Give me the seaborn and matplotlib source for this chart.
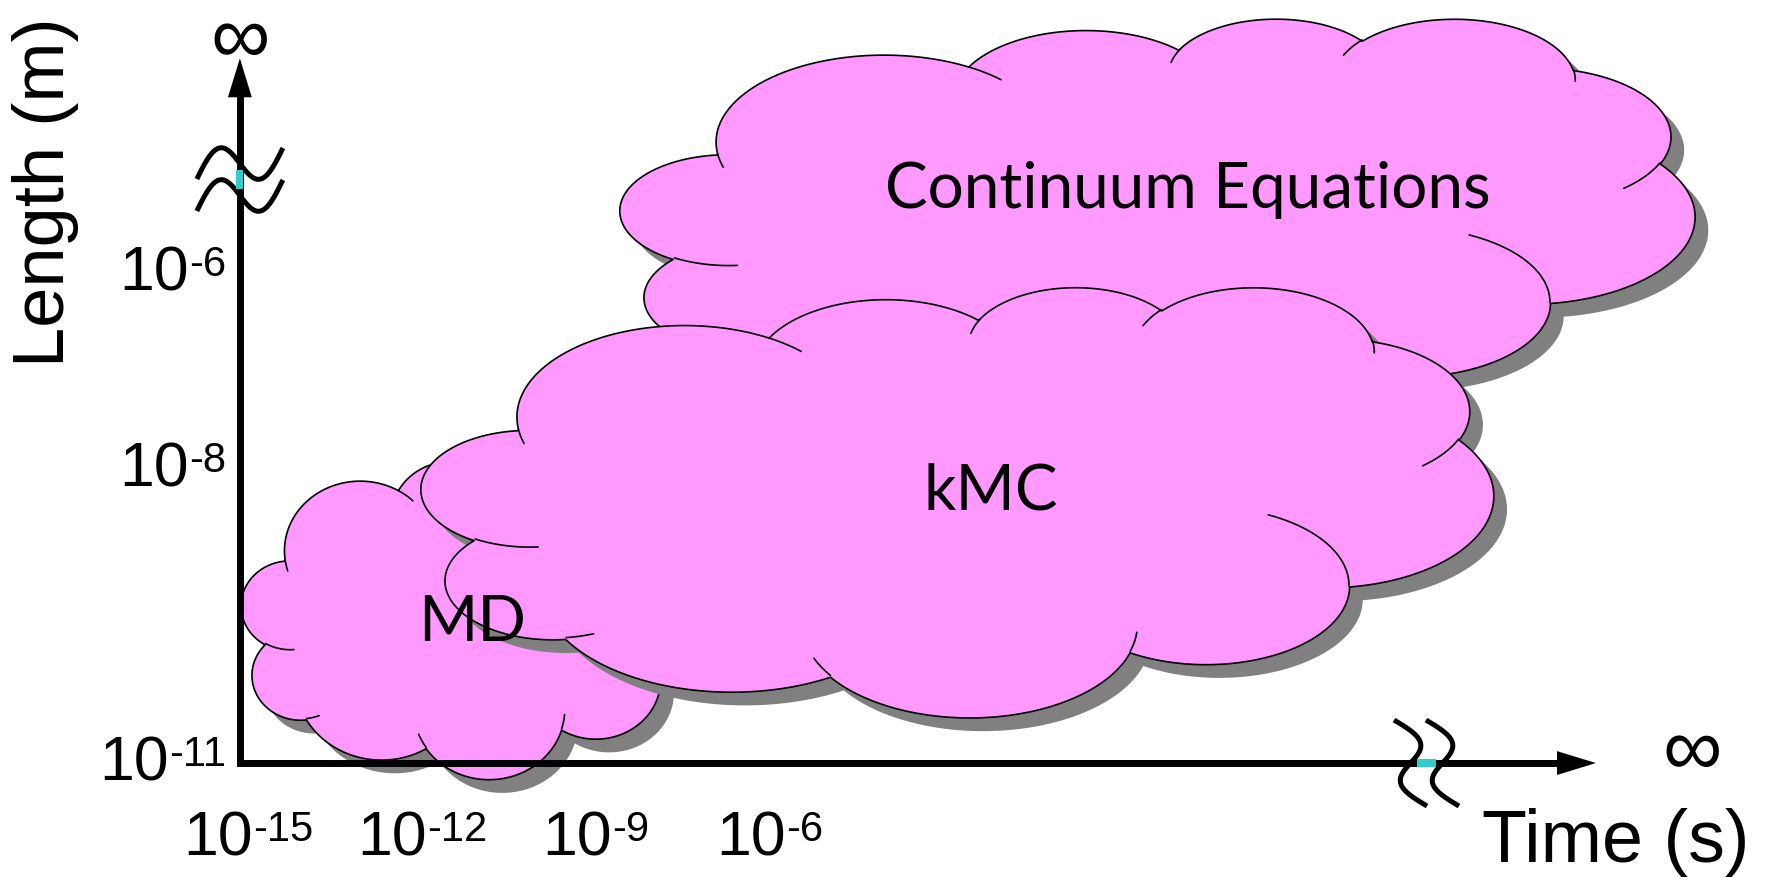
import numpy as np
import matplotlib
matplotlib.use("Agg")
import matplotlib.pyplot as plt
from matplotlib import transforms
from matplotlib.patches import Polygon, Rectangle
from matplotlib.offsetbox import TextArea, HPacker, AnnotationBbox
import seaborn as sns

# simulation regimes, back to front; extents in log10(s) and log10(m)
REGIMES = ["Continuum Equations", "MD", "kMC"]
TIME_LO = [-8.59, -15.12, -12.02]
TIME_HI = [9.95, -6.76, 6.48]
LENGTH_LO = [-7.58, -11.17, -10.54]
LENGTH_HI = [-3.41, -7.83, -6.15]

TIME_TICKS = [-15, -12, -9, -6]
LENGTH_TICKS = [-11, -8, -6]

sns.set_theme(style="white")
plt.rcParams["font.family"] = ["Liberation Sans", "DejaVu Sans"]
plt.rcParams["text.color"] = "black"
AXIS_FONT = ["Liberation Sans", "DejaVu Sans"]
LABEL_FONT = ["Lato", "DejaVu Sans"]

PINK = "#FF99FF"
SHADOW = "#808080"
CYAN = "#33CCCC"

# clip-art cloud outline (43200 grid, angles in 1/60000 degree)
CLOUD_START = (3900, 14370)
CLOUD_ARCS = [
    (6753, 9190, -11429249, 7426832),
    (5333, 7267, -8646143, 5396714),
    (4365, 5945, -8748475, 5983381),
    (4857, 6595, -7859164, 7034504),
    (5333, 7273, -4722533, 6541615),
    (6775, 9220, -2776035, 7816140),
    (5785, 7867, 37501, 6842000),
    (6752, 9215, 1347096, 6910353),
    (7720, 10543, 3974558, 4542661),
    (4360, 5918, -16496525, 8804134),
    (4345, 5945, -14809710, 9151131),
]
CLOUD_INNER = [
    ((4693, 26177), 4345, 5945, 5204520, 1585770),
    ((6928, 34899), 4360, 5918, 4416628, 686848),
    ((16478, 39090), 6752, 9215, 8257449, 844866),
    ((28827, 34751), 6752, 9215, 387196, 959901),
    ((34129, 22954), 5785, 7867, -4217541, 4255042),
    ((41798, 15354), 5333, 7273, 1819082, 1665090),
    ((38324, 5426), 4857, 6595, -824660, 891534),
    ((29078, 3952), 4857, 6595, -8950887, 1091722),
    ((22141, 4720), 4365, 5945, -9809656, 1061181),
    ((14000, 5192), 6753, 9190, -4002417, 739161),
    ((4127, 15789), 6753, 9190, 9459261, 711490),
]

# layout (data units = decades)
X_LIM = (-19.276, 11.328)
Y_LIM = (-12.173, -3.204)
AX_X0, AX_Y0 = -15.14, -11.0
X_TIP, Y_TIP = 8.24, -3.81
X_BREAK, Y_BREAK = 5.32, -5.046
LABEL_OFFSETS = [(22, 25), (-8, -4), (24, 9)]  # points, per regime


def arc_pts(p, wr, hr, st, sw, n=80):
    st = np.deg2rad(st / 60000.0)
    sw = np.deg2rad(sw / 60000.0)
    t0 = np.arctan2(wr * np.sin(st), hr * np.cos(st))
    cx, cy = p[0] - wr * np.cos(t0), p[1] - hr * np.sin(t0)
    a = st + sw * np.linspace(0, 1, n)
    t = np.arctan2(wr * np.sin(a), hr * np.cos(a))
    return np.column_stack([cx + wr * np.cos(t), cy + hr * np.sin(t)])


def cloud_geometry():
    pts = [np.array([CLOUD_START], float)]
    p = CLOUD_START
    for wr, hr, st, sw in CLOUD_ARCS:
        seg = arc_pts(p, wr, hr, st, sw)
        pts.append(seg)
        p = seg[-1]
    outline = np.vstack(pts)
    inner = [arc_pts(p0, wr, hr, st, sw, 30) for p0, wr, hr, st, sw in CLOUD_INNER]
    lo, hi = outline.min(0), outline.max(0)

    def norm(a):
        u = (a[:, 0] - lo[0]) / (hi[0] - lo[0])
        v = 1 - (a[:, 1] - lo[1]) / (hi[1] - lo[1])
        return np.column_stack([u, v])

    return norm(outline), [norm(a) for a in inner]


fig = plt.figure(figsize=(17.75, 8.79), dpi=100)
ax = fig.add_axes([0, 0, 1, 1])
ax.set_xlim(*X_LIM)
ax.set_ylim(*Y_LIM)
ax.axis("off")


def pt_trans(x, y):
    return transforms.Affine2D().scale(fig.dpi / 72.0) + transforms.ScaledTranslation(x, y, ax.transData)


# clouds
outline, inner = cloud_geometry()
shadow_tr = transforms.offset_copy(ax.transData, fig=fig, x=9.5, y=-9.5, units="points")
for i, name in enumerate(REGIMES):
    x0, x1 = TIME_LO[i], TIME_HI[i]
    y0, y1 = LENGTH_LO[i], LENGTH_HI[i]

    def place(a):
        return np.column_stack([x0 + a[:, 0] * (x1 - x0), y0 + a[:, 1] * (y1 - y0)])

    z = 2 + i
    ax.add_patch(Polygon(place(outline), closed=True, fc=SHADOW, ec="none",
                         transform=shadow_tr, zorder=z))
    ax.add_patch(Polygon(place(outline), closed=True, fc=PINK, ec="black", lw=1.2,
                         joinstyle="round", zorder=z + 0.1))
    for seg in inner:
        s = place(seg)
        ax.plot(s[:, 0], s[:, 1], color="black", lw=1.2, zorder=z + 0.2)

    cx, cy = (x0 + x1) / 2, (y0 + y1) / 2
    ax.annotate(name, (cx, cy), xytext=LABEL_OFFSETS[i], textcoords="offset points",
                ha="center", va="center", fontsize=46, family=LABEL_FONT, color="black",
                zorder=20)

# axes with arrows
ax.plot([X_TIP - 0.3, AX_X0, AX_X0], [AX_Y0, AX_Y0, Y_TIP - 0.2], color="black", lw=5,
        solid_joinstyle="miter", solid_capstyle="butt", zorder=10)
head = dict(arrowstyle="-|>,head_length=2.8,head_width=0.86", mutation_scale=10, lw=0,
            facecolor="black", edgecolor="none", shrinkA=0, shrinkB=0)
ax.annotate("", xy=(X_TIP, AX_Y0), xytext=(X_TIP - 1.0, AX_Y0), arrowprops=head, zorder=11)
ax.annotate("", xy=(AX_X0, Y_TIP), xytext=(AX_X0, Y_TIP - 0.8), arrowprops=head, zorder=11)

# axis breaks
u = np.linspace(-1, 1, 60)
for d in (-11.5, 11.5):
    bx = 0.72 * 43 * u
    by = -0.72 * (23 * np.sin(np.pi * u) - 15.5 * u) - d
    ax.plot(bx, by, color="black", lw=3.6, solid_capstyle="butt",
            transform=pt_trans(AX_X0, Y_BREAK), zorder=12)
    bx = 0.72 * (-17.75 * np.sin(np.pi * u) + 16.5 * u) + d
    by = -0.72 * 43 * u
    ax.plot(bx, by, color="black", lw=3.6, solid_capstyle="butt",
            transform=pt_trans(X_BREAK, AX_Y0), zorder=12)
ax.add_patch(Rectangle((-2.6, -6.85), 5.2, 13.7, fc=CYAN, ec="none",
                       transform=pt_trans(AX_X0, Y_BREAK), zorder=13))
ax.add_patch(Rectangle((-6.85, -2.6), 13.7, 5.2, fc=CYAN, ec="none",
                       transform=pt_trans(X_BREAK, AX_Y0), zorder=13))


# tick labels as 10^n
def power_label(exp, xy, offset, align):
    base = TextArea("10", textprops=dict(fontsize=45, family=AXIS_FONT, color="black"))
    sup = TextArea(f"-{abs(exp)}", textprops=dict(fontsize=30, family=AXIS_FONT, color="black"))
    box = HPacker(children=[base, sup], align="top", pad=0, sep=0)
    ab = AnnotationBbox(box, xy, xybox=offset, boxcoords="offset points",
                        box_alignment=align, frameon=False, pad=0, zorder=14)
    ax.add_artist(ab)


for t in TIME_TICKS:
    power_label(t, (t, AX_Y0), (0, -54), (0.5, 0.5))
for t in LENGTH_TICKS:
    power_label(t, (AX_X0, t), (-10, 0), (1.0, 0.5))

# infinity marks and axis titles
ax.annotate("\u221e", (AX_X0, Y_TIP), xytext=(0, 13.1), textcoords="offset points",
            ha="center", va="center", fontsize=60, family=AXIS_FONT, zorder=14)
ax.annotate("\u221e", (X_TIP, AX_Y0), xytext=(69, 8.0), textcoords="offset points",
            ha="center", va="center", fontsize=60, family=AXIS_FONT, zorder=14)
fig.text(0.9104, 0.0193, "Time (s)", ha="center", va="baseline", fontsize=53, family=AXIS_FONT)
fig.text(0.0254, 0.7816, "Length (m)", rotation=90, ha="center", va="center", fontsize=52,
         family=AXIS_FONT)

fig.savefig("out.png", dpi=100)
